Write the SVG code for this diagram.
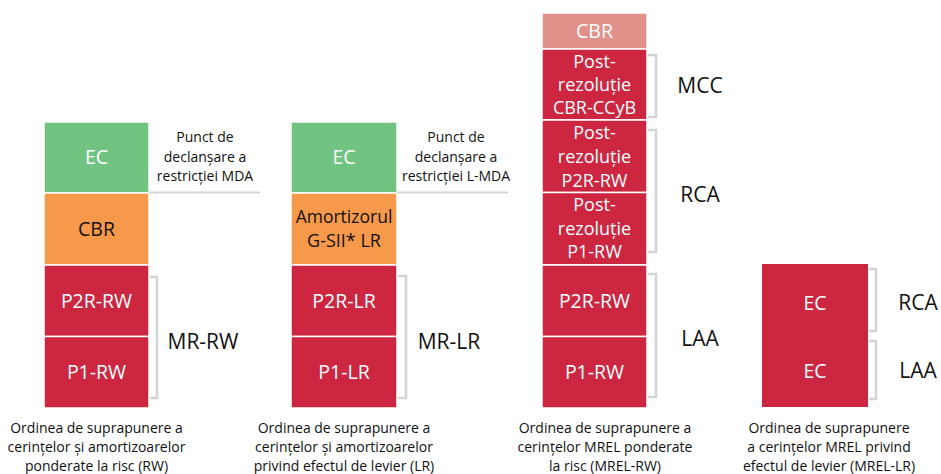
<svg xmlns="http://www.w3.org/2000/svg" width="941" height="474" viewBox="0 0 941 474">
<style>
.cell{stroke:#fff;stroke-width:1.5}
.g{fill:#71c382}.o{fill:#f7994b}.r{fill:#cd2641}.s{fill:#e1918a}
.t{font-family:"Open Sans",sans-serif;font-size:18px;text-anchor:middle}
.b{font-size:19.5px}
.w{fill:#fff}.k{fill:#111}
.lab{font-family:"Open Sans",sans-serif;font-size:21px;text-anchor:middle;fill:#111}
.sm{font-family:"Open Sans",sans-serif;font-size:14px;text-anchor:middle;fill:#111}
.br{fill:none;stroke:#d4d4d4;stroke-width:2.5}
</style>
<g id="col1">
<g id="c1-ec"><rect class="cell g" x="44" y="122" width="105" height="71"/><text class="t b w" x="96.5" y="164">EC</text></g>
<g id="c1-cbr"><rect class="cell o" x="44" y="193" width="105" height="72"/><text class="t b k" x="96.5" y="236">CBR</text></g>
<g id="c1-p2r"><rect class="cell r" x="44" y="265" width="105" height="71.5"/><text class="t b w" x="96.5" y="308">P2R-RW</text></g>
<g id="c1-p1"><rect class="cell r" x="44" y="336.5" width="105" height="71.5"/><text class="t b w" x="96.5" y="379">P1-RW</text></g>
<g id="c1-mda"><text class="sm" x="205" y="142">Punct de</text><text class="sm" x="205" y="162">declanșare a</text><text class="sm" x="205" y="181">restricției MDA</text></g>
<text class="lab" x="203" y="349">MR-RW</text>
<g id="c1-cap"><text class="sm" x="96.5" y="433">Ordinea de suprapunere a</text><text class="sm" x="96.5" y="452">cerințelor și amortizoarelor</text><text class="sm" x="96.5" y="471">ponderate la risc (RW)</text></g>
</g>
<g id="col2">
<g id="c2-ec"><rect class="cell g" x="291" y="122" width="106" height="71"/><text class="t b w" x="344" y="164">EC</text></g>
<g id="c2-gsii"><rect class="cell o" x="291" y="193" width="106" height="72"/><text class="t k" x="344" y="223" style="font-size:17.5px">Amortizorul</text><text class="t k" x="344" y="247">G-SII* LR</text></g>
<g id="c2-p2r"><rect class="cell r" x="291" y="265" width="106" height="71.5"/><text class="t b w" x="344" y="308">P2R-LR</text></g>
<g id="c2-p1"><rect class="cell r" x="291" y="336.5" width="106" height="71.5"/><text class="t b w" x="344" y="379">P1-LR</text></g>
<g id="c2-mda"><text class="sm" x="456" y="142">Punct de</text><text class="sm" x="456" y="162">declanșare a</text><text class="sm" x="456" y="181">restricției L-MDA</text></g>
<text class="lab" x="449" y="349">MR-LR</text>
<g id="c2-cap"><text class="sm" x="344" y="433">Ordinea de suprapunere a</text><text class="sm" x="344" y="452">cerințelor și amortizoarelor</text><text class="sm" x="344" y="471">privind efectul de levier (LR)</text></g>
</g>
<g id="col3">
<g id="c3-cbr"><rect class="cell s" x="542" y="13" width="105" height="36"/><text class="t b w" x="594.5" y="38">CBR</text></g>
<g id="c3-ccyb"><rect class="cell r" x="542" y="49" width="105" height="71"/><text class="t w" x="594.5" y="68">Post-</text><text class="t w" x="594.5" y="91">rezoluție</text><text class="t w" x="594.5" y="114">CBR-CCyB</text></g>
<g id="c3-pp2r"><rect class="cell r" x="542" y="120" width="105" height="72.5"/><text class="t w" x="594.5" y="139">Post-</text><text class="t w" x="594.5" y="163">rezoluție</text><text class="t w" x="594.5" y="187">P2R-RW</text></g>
<g id="c3-pp1"><rect class="cell r" x="542" y="192.5" width="105" height="72.5"/><text class="t w" x="594.5" y="211">Post-</text><text class="t w" x="594.5" y="235">rezoluție</text><text class="t w" x="594.5" y="258">P1-RW</text></g>
<g id="c3-p2r"><rect class="cell r" x="542" y="265" width="105" height="71.5"/><text class="t b w" x="594.5" y="308">P2R-RW</text></g>
<g id="c3-p1"><rect class="cell r" x="542" y="336.5" width="105" height="71.5"/><text class="t b w" x="594.5" y="379">P1-RW</text></g>
<text class="lab" x="700" y="93">MCC</text>
<text class="lab" x="700" y="202">RCA</text>
<text class="lab" x="700" y="346">LAA</text>
<g id="c3-cap"><text class="sm" x="605" y="433">Ordinea de suprapunere a</text><text class="sm" x="605" y="452">cerințelor MREL ponderate</text><text class="sm" x="605" y="471">la risc (MREL-RW)</text></g>
</g>
<g id="col4">
<g id="c4-ec"><rect class="r" x="762" y="264" width="106" height="143"/><text class="t b w" x="815" y="310">EC</text><text class="t b w" x="815" y="378">EC</text></g>
<text class="lab" x="918" y="310">RCA</text>
<text class="lab" x="918" y="378">LAA</text>
<g id="c4-cap"><text class="sm" x="829" y="433">Ordinea de suprapunere</text><text class="sm" x="829" y="452">a cerințelor MREL privind</text><text class="sm" x="829" y="471">efectul de levier (MREL-LR)</text></g>
</g>
<g id="connectors">
<line class="br" x1="149" y1="192.5" x2="260" y2="192.5" style="stroke-width:2"/>
<line class="br" x1="397" y1="192.5" x2="508" y2="192.5" style="stroke-width:2"/>
<path class="br" d="M150 277H157V398H150"/>
<path class="br" d="M398 276H406V398H398"/>
<path class="br" d="M648 55H656V117H648"/>
<path class="br" d="M648 130H656V252H648"/>
<path class="br" d="M648 274H656V397H648"/>
<path class="br" d="M869 269H876V331H869"/>
<path class="br" d="M869 341H876V399H869"/>
</g>
</svg>
